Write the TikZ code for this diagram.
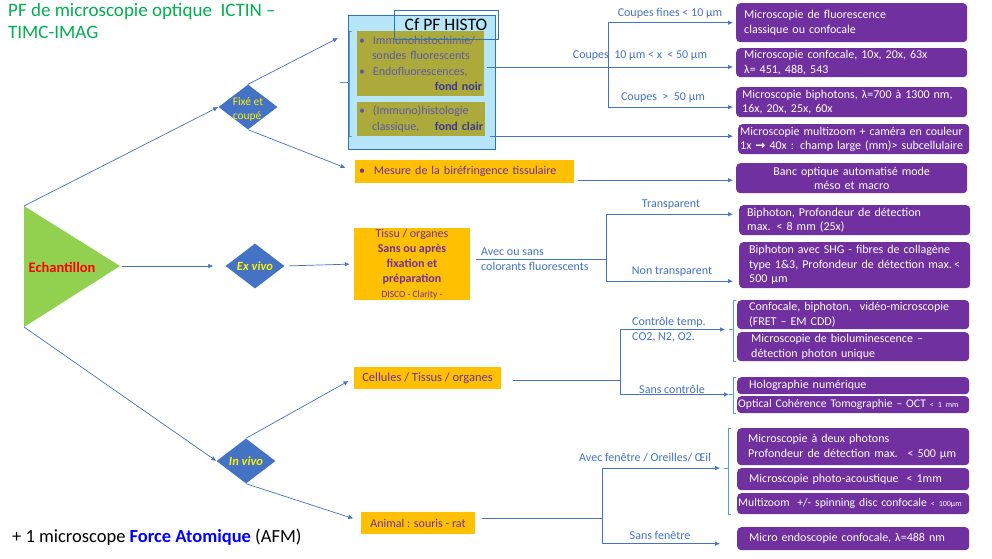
\documentclass[tikz,border=0pt]{standalone}
\usepackage{fontspec}
\setmainfont{Carlito}
\newfontfamily\symfont{DejaVu Sans}
\usetikzlibrary{arrows.meta, positioning, shapes.geometric}

\definecolor{linkblue}{RGB}{68,114,196}
\definecolor{brkblue}{RGB}{91,155,213}
\definecolor{micpurple}{RGB}{112,48,160}
\definecolor{amber}{RGB}{255,192,0}
\definecolor{histofill}{RGB}{183,230,250}
\definecolor{histoline}{RGB}{46,117,182}
\definecolor{olive}{RGB}{172,170,58}
\definecolor{histotext}{RGB}{96,88,168}
\definecolor{histobold}{RGB}{60,56,150}
\definecolor{titlegreen}{RGB}{0,176,80}
\definecolor{trigreen}{RGB}{146,208,80}
\definecolor{afmblue}{RGB}{0,0,255}

\tikzset{
  conn/.style={draw=linkblue, line width=0.7pt},
  brk/.style={draw=brkblue, line width=0.6pt},
  mic/.style={fill=micpurple, rounded corners=4pt, text=white, anchor=north west,
    minimum width=231pt, text width=215pt, inner xsep=8pt, inner ysep=1pt, align=left,
    font=\fontsize{12}{14.5}\selectfont},
  orbox/.style={fill=amber, text=micpurple, inner sep=1pt, font=\fontsize{12}{15}\selectfont},
  inbox/.style={fill=olive, text=histotext, align=left, inner xsep=2pt,
    font=\fontsize{12}{15.5}\selectfont},
  decision/.style={diamond, fill=linkblue, aspect=1.3, inner sep=0pt,
    minimum width=59pt, minimum height=45pt},
  dectext/.style={text=yellow, inner sep=0pt},
  lab/.style={text=linkblue, inner sep=0pt, font=\fontsize{12}{15}\selectfont},
}

\begin{document}
\begin{tikzpicture}[x=1pt, y=-1pt, >={Latex[length=5pt,width=4.5pt]}]
\path[fill=white] (0,0) rectangle (992,558);
\useasboundingbox (0,0) rectangle (992,558);

% Title
\node (title) [anchor=north west, align=left, text=titlegreen, inner sep=0pt,
  font=\fontsize{19}{22}\selectfont] at (8,3) {PF de microscopie optique~ ICTIN --\\ TIMC-IMAG};
\node (afm) [anchor=west, inner sep=0pt, font=\fontsize{18.5}{20}\selectfont] at (12,537)
  {+ 1 microscope \textcolor{afmblue}{\bfseries Force Atomique} (AFM)};

% Sample
\coordinate (tritop) at (24,206);
\coordinate (triapex) at (120,266);
\coordinate (tribot) at (24,327);
\fill[trigreen] (tritop) -- (triapex) -- (tribot) -- cycle;
\node (echant) [text=red, font=\fontsize{14.5}{16}\selectfont\bfseries] at (62,267) {Echantillon};

% Decisions
\node (fixe) [decision] at (248,107) {};
\node (fixetext) [dectext, align=left, font=\fontsize{11.5}{14}\selectfont] at (248,109) {Fixé et\\ coupé};
\node (exvivo) [decision] at (255,266) {};
\node (exvivotext) [dectext, font=\fontsize{12.5}{14}\selectfont\bfseries\itshape] at (exvivo) {Ex vivo};
\node (invivo) [decision] at (246,461) {};
\node (invivotext) [dectext, font=\fontsize{12.5}{14}\selectfont\bfseries\itshape] at (invivo) {In vivo};

% Histology block
\node (histo) [draw=histoline, fill=histofill, line width=0.6pt, minimum width=147pt, minimum height=134pt] at (421.5,82) {};
\node (in1) [inbox, minimum width=127pt, minimum height=65pt, text width=123pt] at (420.5,63.5)
  {\textbullet\hspace{8pt}Immunohistochimie/\\
   \hspace*{13pt}sondes fluorescents\\
   \textbullet\hspace{8pt}Endofluorescences,\\
   \hspace*{\fill}\textcolor{histobold}{\bfseries fond noir}};
\node (in2) [inbox, minimum width=128pt, minimum height=34pt, text width=124pt] at (421,119)
  {\textbullet\hspace{8pt}(Immuno)histologie\\
   \hspace*{13pt}classique,\hfill\textcolor{histobold}{\bfseries fond clair}};
\node (cfhisto) [draw=histoline, line width=0.6pt, minimum width=104pt, minimum height=29pt,
  font=\fontsize{17.5}{18}\selectfont] at (446,24.5) {Cf PF HISTO};
\draw[brk] ([xshift=-5pt]in1.north west) -- ++(-3,0) |- ([xshift=-5pt]in2.south west);
\draw[brk] ([xshift=1pt]histo.west) -- ++(-9,0);
\coordinate (histoin) at (338,38);

% Preparations
\node (mesure) [orbox, minimum width=219pt, minimum height=23pt, text width=211pt, align=left] at (464.5,171.5)
  {\textbullet\hspace{9pt}Mesure de la biréfringence tissulaire};
\node (tissu) [orbox, minimum width=116pt, minimum height=72pt, align=center] at (412,264)
  {Tissu / organes\\
   \textbf{Sans ou après}\\
   \textbf{fixation et}\\
   \textbf{préparation}\\
   \fontsize{9.5}{12}\selectfont DISCO - Clarity -};
\node (cellules) [orbox, minimum width=147pt, minimum height=22pt, font=\fontsize{12.5}{14}\selectfont] at (427.5,378) {Cellules / Tissus / organes};
\node (animal) [orbox, minimum width=114pt, minimum height=22pt] at (418,523) {Animal : souris - rat};

% Microscopes
\node (m1) [mic, minimum height=39pt] at (736,3) {Microscopie de fluorescence\\ classique ou confocale};
\node (m2) [mic, minimum height=29pt] at (736,48) {Microscopie confocale, 10x, 20x, 63x\\ λ= 451, 488, 543};
\node (m3) [mic, minimum height=30pt, inner xsep=6pt, text width=219pt] at (736,87) {Microscopie biphotons, λ=700 à 1300 nm,\\ 16x, 20x, 25x, 60x};
\node (m4) [mic, minimum height=30pt, inner xsep=2pt, text width=227pt] at (738,124) {Microscopie multizoom + caméra en couleur\\ 1x \symfont\bfseries → \normalfont 40x : champ large (mm)> subcellulaire};
\node (m5) [mic, minimum height=30pt, align=center] at (736,163) {Banc optique automatisé mode\\ méso et macro};
\node (m6) [mic, minimum height=30pt, inner xsep=8pt] at (739,205) {Biphoton, Profondeur de détection\\ max. < 8 mm (25x)};
\node (m7) [mic, minimum height=46pt, inner xsep=10pt, text width=211pt] at (739,242) {Biphoton avec SHG - fibres de collagène\\ type 1\&3, Profondeur de détection max.\hfill<\\ 500 µm};
\node (m8) [mic, minimum height=29pt, inner xsep=12pt, text width=208pt] at (737,300) {Confocale, biphoton,~ vidéo-microscopie\\ (FRET -- EM CDD)};
\node (m9) [mic, minimum height=29pt, inner xsep=14pt, text width=204pt] at (737,332) {Microscopie de bioluminescence --\\ détection photon unique};
\node (m10) [mic, minimum height=17pt, inner xsep=12pt, text width=208pt] at (737,377) {Holographie numérique};
\node (m11) [mic, minimum height=17pt, inner xsep=1pt, text width=230pt, font=\fontsize{11.7}{14}\selectfont] at (737,396) {Optical Cohérence Tomographie -- OCT~{\fontsize{8}{8}\selectfont <~1~mm}};
\node (m12) [mic, minimum height=37pt, inner xsep=11pt, text width=210pt] at (737,428) {Microscopie à deux photons\\ Profondeur de détection max.~ <~500~µm};
\node (m13) [mic, minimum height=22pt, inner xsep=12pt, text width=208pt] at (737,468) {Microscopie photo-acoustique~ < 1mm};
\node (m14) [mic, minimum height=21pt, inner xsep=1pt, text width=230pt, font=\fontsize{11.7}{14}\selectfont] at (737,493) {Multizoom~ +/- spinning disc confocale~{\fontsize{8}{8}\selectfont <~100µm}};
\node (m15) [mic, minimum height=23pt, inner xsep=12pt, text width=208pt] at (737,527) {Micro endoscopie confocale, λ=488 nm};

% Brackets
\draw[brk] ([xshift=-1pt]m8.north west) -- ++(-3,0) |- ([xshift=-1pt]m9.south west);
\draw[brk] ([xshift=-4pt]m8.south west) -- ++(-4,0);
\draw[brk] ([xshift=-1pt]m10.north west) -- ++(-3,0) |- ([xshift=-1pt]m11.south west);
\draw[brk] ([xshift=-4pt]m10.south west) -- ++(-4,0);
\draw[brk] ([xshift=-6pt]m12.north west) -- ++(-3,0) |- ([xshift=-6pt]m14.south west);
\draw[brk] ([xshift=-9pt]m13.north west) -- ++(-4,0);

% Split points
\coordinate (split1) at (608,67);
\coordinate (split2) at (606,259);
\coordinate (split3) at (620,380);
\coordinate (split4) at (602,518);

% Arrows from the sample
\draw[conn,->] (tritop) -- (fixe.west);
\draw[conn,->, shorten <=2pt, shorten >=12pt] (triapex) -- (exvivo.west);
\draw[conn,->] (tribot) -- (invivo.west);
\draw[conn,->] (fixe.north) -- (histoin);
\draw[conn,->, shorten >=10pt] (fixe.south) -- (mesure.west);
\draw[conn,->, shorten <=4pt, shorten >=4pt] (exvivo.east) -- (tissu.west);
\draw[conn,->, shorten >=6pt] (invivo.north) -- (cellules.west);
\draw[conn,->, shorten >=8pt] (invivo.south) -- ([yshift=2pt]animal.west);

% Fixed samples
\draw[conn, shorten <=3pt] (in1.east |- split1) -- (split1);
\draw[conn,->, shorten >=3pt] (split1) |- (m1.west);
\draw[conn,->, shorten >=3pt] (split1) -- (m2.west |- split1);
\draw[conn,->, shorten >=3pt] (split1) |- ([yshift=-5pt]m3.west);
\draw[conn,->, shorten <=5pt, shorten >=5pt] ([yshift=3pt]in2.east |- m4.west) -- ([yshift=3pt]m4.west);
\draw[conn,->, shorten <=4pt, shorten >=3pt] ([yshift=-2pt]mesure.east |- m5.west) -- ([yshift=-2pt]m5.west);

% Ex vivo
\draw[conn, shorten <=6pt] (tissu.east |- split2) -- (split2);
\draw[conn,->, shorten >=6pt] (split2) |- ([yshift=6pt]m6.west);
\draw[conn,->, shorten >=6pt] (split2) |- ([yshift=-16pt]m7.west);

% In vivo
\draw[conn, shorten <=12pt] (cellules.east |- split3) -- (split3);
\draw[conn,->] (split3) |- ([xshift=-12pt]m8.south west);
\draw[conn,->] (split3) |- ([xshift=-8pt]m10.south west);
\draw[conn, shorten <=7pt] (animal.east |- split4) -- (split4);
\draw[conn,->] (split4) |- ([xshift=-17pt]m13.north west);
\draw[conn,->, shorten >=17pt] (split4) |- ([yshift=-5pt]m15.west);

% Labels
\node (lfines) [lab] at (670,13) {Coupes fines < 10 µm};
\node (lmoyen) [lab] at (640,56) {Coupes~ 10 µm < x~ < 50 µm};
\node (lepais) [lab] at (663,98) {Coupes~ >~ 50 µm};
\node (ltransp) [lab] at (671,205) {Transparent};
\node (lnontr) [lab] at (672,272) {Non transparent};
\node (lcolor) [lab, anchor=west, align=left] at (481,259.5) {Avec ou sans\\ colorants fluorescents};
\node (lcontrol) [lab, anchor=west, align=left] at (632,329.5) {Contrôle temp.\\ CO2, N2, O2.};
\node (lsans) [lab] at (672,389) {Sans contrôle};
\node (lfenetre) [lab] at (645,458) {Avec fenêtre / Oreilles/ Œil};
\node (lsansfen) [lab] at (660,535) {Sans fenêtre};

\end{tikzpicture}
\end{document}
